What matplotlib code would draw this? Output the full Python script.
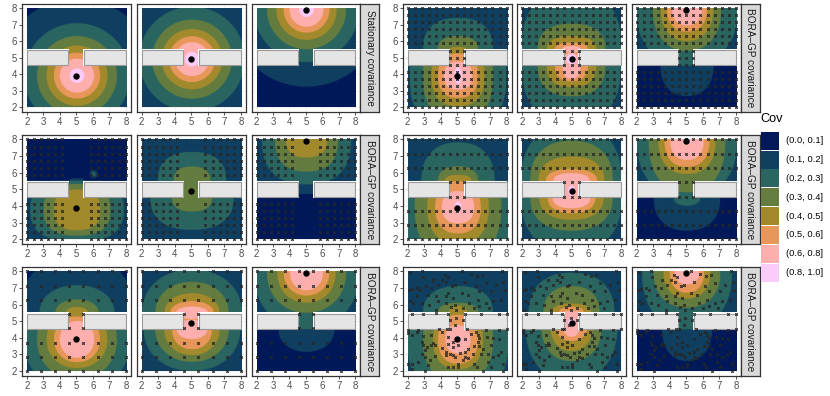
import numpy as np
import matplotlib
matplotlib.use("Agg")
import matplotlib.pyplot as plt
from matplotlib.colors import ListedColormap, BoundaryNorm
from matplotlib.patches import Rectangle

plt.rcParams['font.family'] = ['Liberation Sans', 'DejaVu Sans']

# ---------- data ----------
cov_bounds = [0.0, 0.1, 0.2, 0.3, 0.4, 0.5, 0.6, 0.8, 1.0]
cov_labels = ['(0.0, 0.1]', '(0.1, 0.2]', '(0.2, 0.3]', '(0.3, 0.4]',
              '(0.4, 0.5]', '(0.5, 0.6]', '(0.6, 0.8]', '(0.8, 1.0]']
cov_colors = ['#011959', '#103F60', '#2A6560', '#647C3F',
              '#A28A2C', '#E8975A', '#FDAFAE', '#FACCFA']
tick_values = [2, 3, 4, 5, 6, 7, 8]
strip_stationary = 'Stationary covariance'
strip_bora = 'BORA\u2013GP covariance'

fine_grid = [2, 2.43, 2.86, 3.29, 3.71, 4.14, 4.57, 5, 5.43, 5.86, 6.29, 6.71, 7.14, 7.57, 8]
coarse_grid = [2, 2.86, 3.71, 4.57, 5.43, 6.29, 7.14, 8]

# extents of each covariance band (levels 0.1 ... 0.6), below and above the wall
stationary_r = [4.67, 3.18, 2.4, 1.83, 1.39, 1.03]

a1 = dict(src=3.9, p=2.0, lo_c=3.9, lo_rx=stationary_r, lo_ry=stationary_r, up_c=3.9, up_rx=stationary_r, up_ry=stationary_r, peak=(.44, .44))
a2 = dict(src=4.9, p=2.0, lo_c=4.9, lo_rx=stationary_r, lo_ry=stationary_r, up_c=4.9, up_rx=stationary_r, up_ry=stationary_r, peak=(.44, .44))
a3 = dict(src=7.9, p=2.0, lo_c=7.9, lo_rx=stationary_r, lo_ry=stationary_r, up_c=7.9, up_rx=stationary_r, up_ry=stationary_r, peak=(.44, .44))

b1 = dict(src=3.9, p=2.4, lo_c=3.9, lo_rx=[9, 2.9, 2.1, 1.6, 1.2, .85], lo_ry=[9, 3.5, 2.8, 1.85, 1.35, .85],
          up_c=5.5, up_rx=[3.68, 2.1, 1.2, .5, 0, 0], up_ry=[3.58, 1.9, .8, .15, 0, 0], peak=(.22, .5))
b2 = dict(src=4.9, p=2.4, lo_c=4.5, lo_rx=[9, 3.0, 2.05, 1.5, 1.0, .55], lo_ry=[9, 3.5, 1.85, 1.3, .95, .8],
          up_c=5.5, up_rx=[9, 3.04, 2.05, 1.5, 1.0, .55], up_ry=[9, 3.6, 1.55, .8, .4, .2], peak=(.3, .3))
b3 = dict(src=7.9, p=2.2, lo_c=4.5, lo_rx=[1.6, 0, 0, 0, 0, 0], lo_ry=[1.84, 0, 0, 0, 0, 0],
          up_c=7.9, up_rx=[9, 3.05, 2.05, 1.57, 1.2, .9], up_ry=[9, 3.4, 2.5, 1.9, 1.33, .95], peak=(.2, .2))

c1 = dict(src=3.9, p=2.6, lo_c=3.75, lo_rx=[9, 2.8, 2.0, 1.39, 0, 0], lo_ry=[9, 1.9, 1.55, 1.22, 0, 0],
          up_c=5.5, up_rx=[.45, 0, 0, 0, 0, 0], up_ry=[.15, 0, 0, 0, 0, 0], peak=(0, 0), spots=[(6.0, 5.9, .25, 0), (6.0, 5.9, .12, 1)])
c2 = dict(src=4.9, p=2.4, lo_c=4.5, lo_rx=[9, 2.5, 1.2, 0, 0, 0], lo_ry=[9, 1.95, .85, 0, 0, 0],
          up_c=5.5, up_rx=[9, 2.05, 1.1, 0, 0, 0], up_ry=[9, 1.73, .85, 0, 0, 0], peak=(0, 0))
c3 = dict(src=7.9, p=2.4, lo_c=4.5, lo_rx=[0, 0, 0, 0, 0, 0], lo_ry=[0, 0, 0, 0, 0, 0],
          up_c=7.9, up_rx=[9, 2.7, 1.9, 1.24, 0, 0], up_ry=[3.2, 2.62, 1.85, 1.0, 0, 0], peak=(0, 0))

d1 = dict(src=3.9, p=2.3, lo_c=3.9, lo_rx=[9, 3.3, 2.6, 1.85, 1.37, .97], lo_ry=[9, 4.0, 3.2, 2.2, 1.57, .97],
          up_c=5.5, up_rx=[9, 2.2, 1.2, .8, 0, 0], up_ry=[9, 2.3, .87, .35, 0, 0], peak=(.2, .35))
d2 = dict(src=4.9, p=2.3, lo_c=4.5, lo_rx=[9, 3.05, 2.5, 1.95, 1.45, 1.15], lo_ry=[9, 3.3, 2.0, 1.35, .95, .66],
          up_c=5.5, up_rx=[9, 3.05, 2.5, 2.0, 1.55, 1.1], up_ry=[9, 3.4, 2.4, 1.45, .7, .45], peak=(.2, .3))
d3 = dict(src=7.9, p=2.3, lo_c=4.5, lo_rx=[2.0, .8, 0, 0, 0, 0], lo_ry=[2.0, .5, 0, 0, 0, 0],
          up_c=7.9, up_rx=[9, 3.0, 2.3, 1.72, 1.35, 1.0], up_ry=[9, 3.4, 3.1, 2.0, 1.57, 1.15], peak=(.2, .2))

e1 = dict(src=3.9, p=2.1, lo_c=3.9, lo_rx=[9, 3.2, 2.4, 1.82, 1.38, 1.03], lo_ry=[9, 3.2, 2.4, 1.73, 1.37, 1.1],
          up_c=5.5, up_rx=[3.5, 2.25, 1.3, .65, 0, 0], up_ry=[3.5, 1.65, .8, .35, 0, 0], peak=(.12, .12))
e2 = dict(src=4.9, p=2.1, lo_c=4.5, lo_rx=[9, 2.9, 2.2, 1.65, 1.2, .92], lo_ry=[9, 2.5, 1.95, 1.55, 1.2, .58],
          up_c=5.5, up_rx=[9, 3.0, 2.2, 1.65, 1.3, .95], up_ry=[9, 2.6, 1.85, 1.17, .7, .37], peak=(.12, .12))
e3 = dict(src=7.9, p=2.1, lo_c=4.5, lo_rx=[1.7, 0, 0, 0, 0, 0], lo_ry=[1.35, 0, 0, 0, 0, 0],
          up_c=7.9, up_rx=[9, 3.2, 2.4, 1.77, 1.38, 1.0], up_ry=[9, 3.4, 2.4, 1.8, 1.37, 1.05], peak=(.15, .15))

f1 = dict(src=3.9, p=2.3, lo_c=3.9, lo_rx=[9, 3.05, 2.1, 1.5, 1.2, .75], lo_ry=[9, 3.7, 2.6, 1.8, 1.47, .85],
          up_c=5.5, up_rx=[9, 2.1, 1.2, .55, 0, 0], up_ry=[9, 1.6, .6, .4, 0, 0], peak=(.2, .2))
f2 = dict(src=4.9, p=2.3, lo_c=4.9, lo_rx=[9, 2.8, 1.85, 1.3, 1.0, .55], lo_ry=[9, 3.5, 2.3, 1.7, 1.1, .85],
          up_c=5.5, up_rx=[9, 2.6, 1.7, 1.2, .75, .5], up_ry=[9, 2.4, 1.6, .55, .35, .1], peak=(.2, .25))
f3 = dict(src=7.9, p=2.2, lo_c=4.5, lo_rx=[1.5, 0, 0, 0, 0, 0], lo_ry=[1.9, 0, 0, 0, 0, 0],
          up_c=7.9, up_rx=[9, 2.7, 2.0, 1.4, 1.03, .73], up_ry=[9, 3.4, 2.1, 1.55, 1.2, .7], peak=(.15, .15))

# scattered observation locations in the bottom-right panels
scatter_x = [2.15, 2.9, 5.3, 5.85, 6.2, 6.5, 7.7, 4.25, 4.45, 4.1, 3.85, 4.3, 2.95, 3.55, 2.55, 2.25, 2.1, 2.75, 3.1, 3.45,
             4.85, 4.7, 5.45, 6.15, 6.75, 7.8, 7.35, 7.05, 7.9, 6.35, 5.3, 5.65, 4.45, 4.3, 4.75, 3.75, 3.25, 2.55, 2.15, 2.35,
             2.85, 3.3, 3.85, 4.35, 4.85, 5.35, 5.75, 6.25, 6.75, 7.15, 7.65, 6.35, 3.75, 4.95, 4.65, 6.0, 2.1, 6.95,
             2.25, 2.95, 3.75, 4.45, 5.45, 6.45, 7.55, 8.0, 4.95, 4.55, 5.35, 4.55, 4.85,
             2.05, 2.65, 3.9, 4.4, 5.6, 7.55, 8.0, 2.05, 2.25, 2.55, 2.95, 3.45, 4.1, 4.45, 4.75, 5.05, 5.45, 5.85, 6.15, 6.75,
             6.25, 6.35, 6.8, 7.15, 7.55, 6.25, 6.05, 6.35, 6.55, 7.05, 6.85, 2.85, 2.95, 3.15, 3.55, 3.65, 3.45, 4.1, 4.3,
             4.45, 4.75, 4.35, 4.55, 4.75, 4.9, 5.15, 5.45, 5.65, 5.45, 5.35, 5.65, 5.05, 5.05, 4.75, 4.45, 3.05, 2.85, 3.05,
             3.35, 3.65, 3.25, 2.65, 2.05, 2.25, 2.25, 3.05, 6.05, 6.2, 6.55, 6.85, 7.15, 7.65, 7.45, 7.75, 7.05, 7.75, 6.45, 5.95]
scatter_y = [7.95, 8.0, 8.0, 7.85, 7.75, 7.8, 8.0, 7.8, 7.65, 7.45, 7.2, 7.35, 7.65, 7.5, 7.0, 6.95, 6.85, 6.9, 7.1, 7.0,
             7.2, 7.1, 7.35, 7.1, 7.3, 7.35, 7.2, 6.8, 6.9, 6.8, 6.7, 6.6, 6.7, 6.5, 6.4, 6.5, 6.6, 6.5, 6.2, 6.1,
             6.1, 6.0, 6.2, 6.1, 6.0, 5.8, 6.1, 6.3, 6.1, 6.2, 6.3, 5.9, 5.7, 5.7, 5.85, 5.8, 5.7, 5.8,
             5.45, 5.45, 5.5, 5.45, 5.45, 5.45, 5.45, 5.45, 5.2, 5.05, 5.05, 4.55, 4.8,
             4.5, 4.5, 4.55, 4.55, 4.55, 4.5, 4.55, 4.3, 4.15, 4.35, 4.1, 4.15, 4.35, 4.05, 3.75, 3.55, 3.95, 4.25, 4.35, 4.45,
             4.15, 4.0, 4.05, 4.0, 3.95, 3.75, 3.5, 3.5, 3.35, 3.55, 3.05, 3.75, 3.55, 3.45, 3.7, 3.55, 3.55, 3.4, 3.15,
             3.65, 3.45, 2.95, 3.05, 2.95, 2.85, 3.1, 3.15, 3.35, 2.85, 2.65, 2.8, 2.45, 2.25, 2.25, 2.25, 3.25, 3.0, 2.85,
             2.65, 2.9, 2.35, 2.55, 2.45, 2.45, 2.15, 2.0, 2.45, 2.25, 2.0, 2.55, 2.85, 3.15, 2.95, 2.45, 2.25, 2.0, 3.0, 3.0]

# ---------- layout in pixels ----------
W, H = 830, 396
col_px = [(22, 130.7), (136.7, 245.7), (251.7, 360), (402.7, 511.5), (517.3, 625.7), (631.7, 740.7)]
row_px = [(3.5, 111.7), (134.7, 244), (266.7, 375.7)]
strip_w = 19.3
XLIM = (1.707, 8.293)
YLIM = (1.72, 8.28)
DARK = '#333333'
TICK_TXT = '#4d4d4d'
FS = 6.9

cmap = ListedColormap(cov_colors)
norm = BoundaryNorm(cov_bounds, cmap.N)
gx = np.linspace(2, 8, 801)
X, Y = np.meshgrid(gx, gx)


def inside(cx, cy, rx, ry, p):
    if rx <= 0 or ry <= 0:
        return np.zeros_like(X, dtype=bool)
    return (np.abs(X - cx) / rx) ** p + (np.abs(Y - cy) / ry) ** p <= 1


def field(pn):
    Z = np.full_like(X, 0.05)
    for i, lev in enumerate(cov_bounds[1:7]):
        m = (inside(5, pn['lo_c'], pn['lo_rx'][i], pn['lo_ry'][i], pn['p']) & (Y < 5.5)) | \
            (inside(5, pn['up_c'], pn['up_rx'][i], pn['up_ry'][i], pn['p']) & (Y > 4.5))
        Z[m] = lev + 0.05
    for sx, sy, r, idx in pn.get('spots', []):
        Z[inside(sx, sy, r, r, 2)] = cov_bounds[idx + 1] + 0.05
    Z[inside(5, pn['src'], pn['peak'][0], pn['peak'][1], 2)] = 0.9
    return Z


def grid_points(xs, ys, drop_gap=False):
    pts = []
    for y in ys:
        for x in xs:
            in_wall = 4.5 < y < 5.5
            in_gap = 4.5 < x < 5.5
            if drop_gap and (in_wall or in_gap):
                continue
            if in_wall and not in_gap:
                continue
            pts.append((x, y))
    return np.array(pts)


layout = [
    [(a1, None), (a2, None), (a3, None), (b1, 'dense'), (b2, 'dense'), (b3, 'dense')],
    [(c1, 'nogap'), (c2, 'nogap'), (c3, 'nogap'), (d1, 'rows'), (d2, 'rows'), (d3, 'rows')],
    [(e1, 'coarse'), (e2, 'coarse'), (e3, 'coarse'), (f1, 'scatter'), (f2, 'scatter'), (f3, 'scatter')],
]

fig = plt.figure(figsize=(W / 100, H / 100), dpi=100, facecolor='white')


def add_ax(x0, x1, y0, y1):
    return fig.add_axes([x0 / W, 1 - y1 / H, (x1 - x0) / W, (y1 - y0) / H])


for r, row in enumerate(layout):
    y0, y1 = row_px[r]
    for c, (pn, design) in enumerate(row):
        x0, x1 = col_px[c]
        ax = add_ax(x0, x1, y0, y1)
        ax.set_facecolor('white')
        ax.imshow(field(pn), extent=(2, 8, 2, 8), origin='lower', aspect='auto', cmap=cmap, norm=norm,
                  interpolation='hanning', interpolation_stage='rgba', zorder=1)
        ax.set_xlim(XLIM)
        ax.set_ylim(YLIM)
        ax.set_xticks(tick_values)
        ax.set_yticks(tick_values)
        ax.grid(True, color='#ebebeb', lw=0.5, zorder=0)
        ax.set_axisbelow(True)
        ax.tick_params(axis='both', length=2.0, width=0.6, color=DARK, labelcolor=TICK_TXT,
                       labelsize=FS, pad=1.6, left=c in (0, 3), labelleft=c in (0, 3))
        for s in ax.spines.values():
            s.set_color(DARK)
            s.set_linewidth(0.9)
        # walls: white halo, then grey block
        ax.add_patch(Rectangle((1.95, 4.47), 2.63, 1.06, fc='white', ec='none', zorder=2))
        ax.add_patch(Rectangle((5.42, 4.47), 2.63, 1.06, fc='white', ec='none', zorder=2))
        ax.add_patch(Rectangle((2.0, 4.56), 2.52, 0.89, fc='#e5e5e5', ec='#9a9a9a', lw=0.8, zorder=3))
        ax.add_patch(Rectangle((5.47, 4.56), 2.53, 0.89, fc='#e5e5e5', ec='#9a9a9a', lw=0.8, zorder=3))
        # observations
        pts = None
        if design == 'dense':
            pts = grid_points(fine_grid, fine_grid)
        elif design == 'nogap':
            pts = grid_points(fine_grid, fine_grid, drop_gap=True)
        elif design == 'rows':
            pts = grid_points(fine_grid, coarse_grid)
        elif design == 'coarse':
            pts = grid_points(coarse_grid, coarse_grid)
        elif design == 'scatter':
            pts = np.column_stack([scatter_x, scatter_y])
        if pts is not None:
            ax.plot(pts[:, 0], pts[:, 1], ls='none', marker='x', ms=1.8, mew=0.8,
                    color='#262626', zorder=4, clip_on=False)
        ax.plot([5], [pn['src']], ls='none', marker='o', ms=4.6, mew=0, color='black', zorder=5)
        # strip
        if c in (2, 5):
            st = add_ax(x1, x1 + strip_w, y0, y1)
            st.set_facecolor('#d9d9d9')
            st.set_xticks([])
            st.set_yticks([])
            for s in st.spines.values():
                s.set_color(DARK)
                s.set_linewidth(0.9)
            label = strip_stationary if (r == 0 and c == 2) else strip_bora
            st.text(0.5, 0.5, label, rotation=-90, ha='center', va='center', transform=st.transAxes,
                    fontsize=7.2, color='#1a1a1a')

# colour key
leg = add_ax(755, 830, 110, 290)
leg.set_xlim(755, 830)
leg.set_ylim(290, 110)
leg.axis('off')
leg.text(760.7, 119, 'Cov', ha='left', va='center', fontsize=9.2, color='black')
for i, (col, lab) in enumerate(zip(cov_colors, cov_labels)):
    yc = 140.7 + 18.85 * i
    leg.add_patch(Rectangle((761.3, yc - 9.0), 17.7, 18.0, fc=col, ec='none'))
    leg.text(786, yc, lab, ha='left', va='center', fontsize=6.7, color='black')

fig.savefig('out.png', dpi=100)
